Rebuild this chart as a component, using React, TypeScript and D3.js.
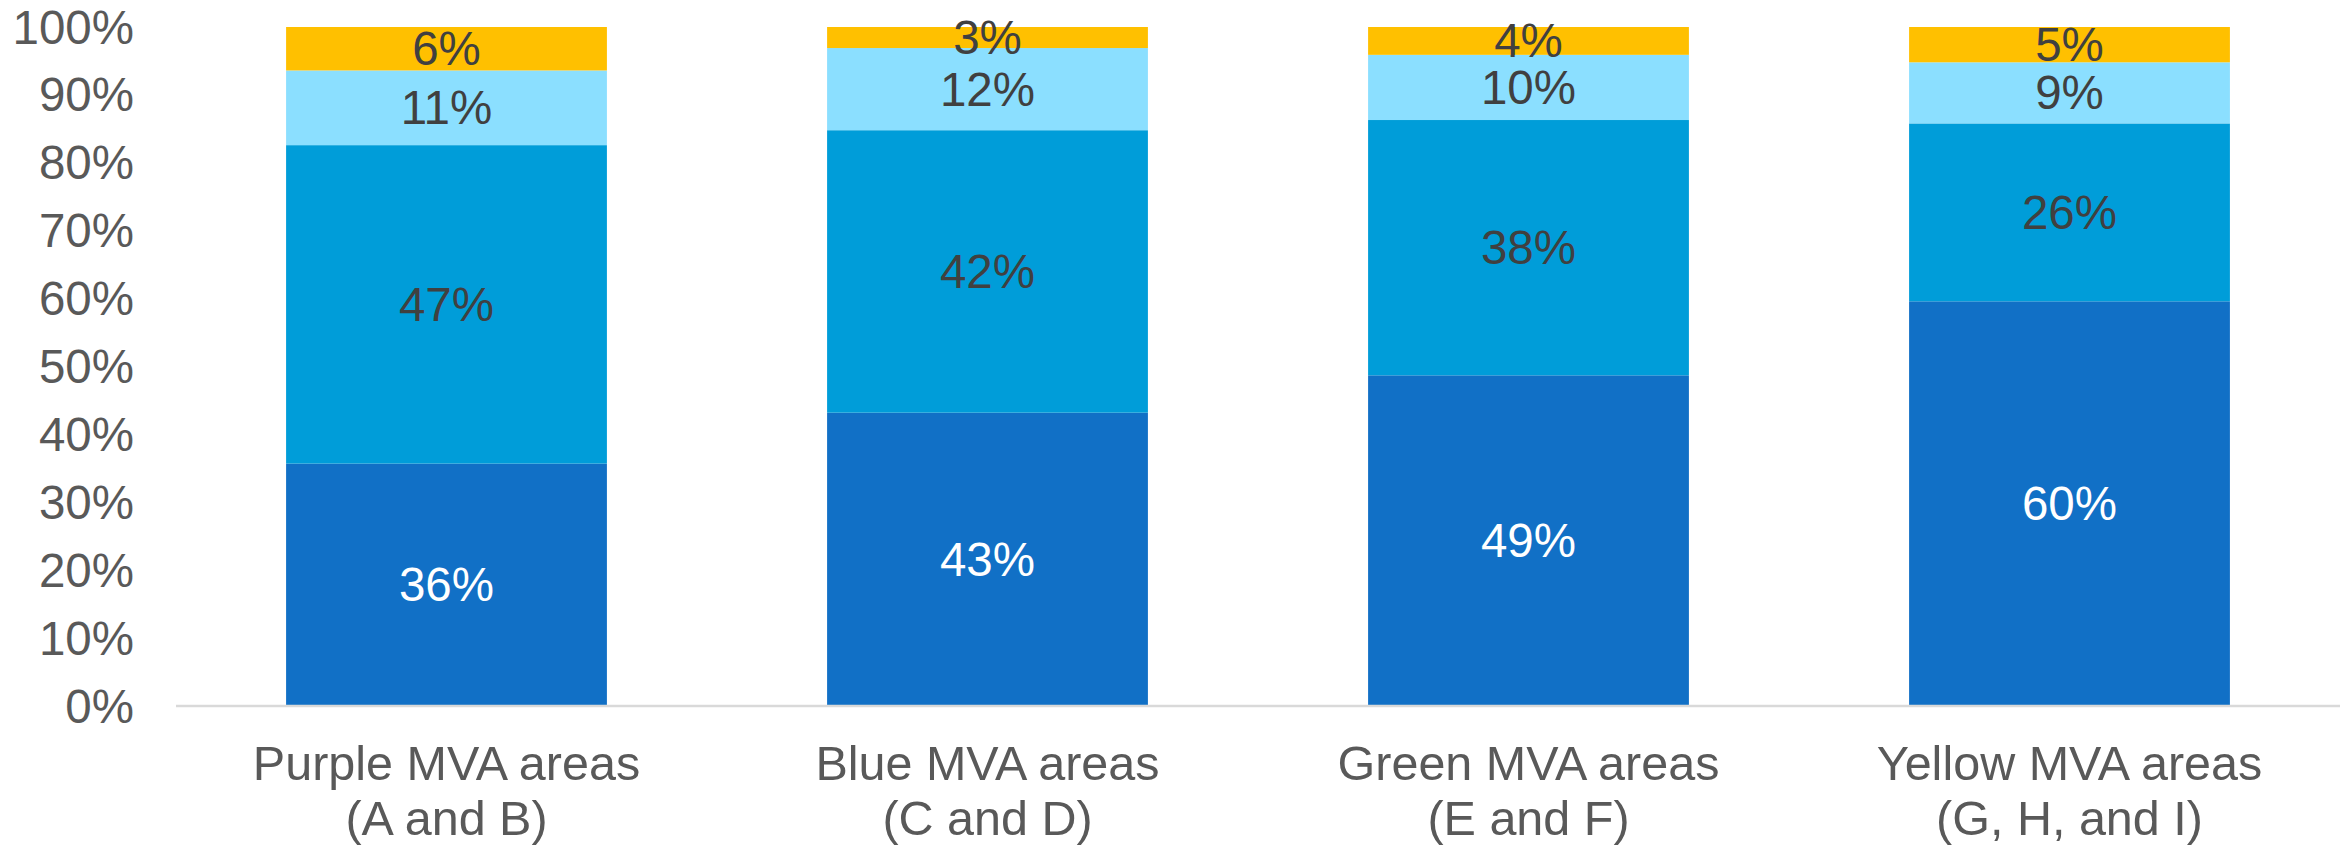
import React from "react";
import * as d3 from "d3";

const categories = [
  ["Purple MVA areas", "(A and B)"],
  ["Blue MVA areas", "(C and D)"],
  ["Green MVA areas", "(E and F)"],
  ["Yellow MVA areas", "(G, H, and I)"],
];
const seriesDark = [35.7, 43.2, 48.7, 59.6];
const seriesMedium = [46.9, 41.6, 37.6, 26.2];
const seriesLight = [11.0, 12.1, 9.6, 9.0];
const seriesYellow = [6.4, 3.1, 4.1, 5.2];
const yTicks = [0, 10, 20, 30, 40, 50, 60, 70, 80, 90, 100];

const seriesList = [
  { values: seriesDark, color: "#1170C6", text: "#FFFFFF" },
  { values: seriesMedium, color: "#009DD9", text: "#404040" },
  { values: seriesLight, color: "#8BDFFF", text: "#404040" },
  { values: seriesYellow, color: "#FFC000", text: "#404040" },
];

export default function App() {
  const W = 2346, H = 845;
  const x0 = 176, x1 = 2340, yTop = 27, yBot = 706;
  const x = d3.scaleBand<number>().domain(categories.map((_, i) => i)).range([x0, x1]).paddingInner(0.407).paddingOuter(0.2035);
  const y = d3.scaleLinear().domain([0, 100]).range([yBot, yTop]);
  const font = "Liberation Sans, Arial, sans-serif";
  const fs = 47.5;
  const cfs = 48.5;

  const segs: any[] = [];
  categories.forEach((_, i) => {
    let acc = 0;
    seriesList.forEach((s, k) => {
      const v = s.values[i];
      segs.push({ i, k, y0: acc, y1: acc + v, v, color: s.color, text: s.text });
      acc += v;
    });
  });

  return (
    <svg width={W} height={H} style={{ position: "absolute", left: 0, top: 0 }} fontFamily={font}>
      <rect width={W} height={H} fill="#fff" />
      {segs.map((s, j) => (
        <rect key={"r" + j} x={x(s.i)} width={x.bandwidth()} y={y(Math.min(s.y1, 100))} height={y(s.y0) - y(Math.min(s.y1, 100))} fill={s.color} />
      ))}
      <line x1={x0} x2={x1} y1={yBot} y2={yBot} stroke="#D9D9D9" strokeWidth={2.5} />
      {yTicks.map((t) => (
        <text key={"t" + t} x={134} y={y(t)} textAnchor="end" dominantBaseline="central" fontSize={fs} fill="#595959">
          {t}%
        </text>
      ))}
      {segs.map((s, j) => (
        <text key={"l" + j} x={(x(s.i) as number) + x.bandwidth() / 2} y={y((s.y0 + Math.min(s.y1, 100)) / 2)} textAnchor="middle" dominantBaseline="central" fontSize={fs} fill={s.text}>
          {Math.round(s.v)}%
        </text>
      ))}
      {categories.map((c, i) => (
        <text key={"c" + i} x={(x(i) as number) + x.bandwidth() / 2} textAnchor="middle" fontSize={cfs} fill="#595959">
          <tspan x={(x(i) as number) + x.bandwidth() / 2} y={780}>{c[0]}</tspan>
          <tspan x={(x(i) as number) + x.bandwidth() / 2} y={835}>{c[1]}</tspan>
        </text>
      ))}
    </svg>
  );
}
